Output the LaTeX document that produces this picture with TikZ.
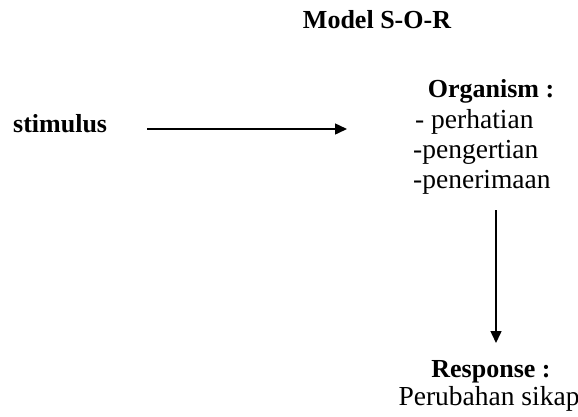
\documentclass[tikz,border=0pt]{standalone}
\usepackage{fontspec}
\setmainfont{Liberation Serif}
\usetikzlibrary{arrows.meta}
\tikzset{
  txt/.style={inner sep=0pt, font=\fontsize{26}{30}\selectfont},
  ltxt/.style={inner sep=0pt, font=\fontsize{27.5}{30}\selectfont},
  btxt/.style={inner sep=0pt, font=\fontsize{26}{30}\selectfont\bfseries},
  conn/.style={line width=1.5pt, -{Triangle[length=12pt,width=11pt]}}
}
\begin{document}
\begin{tikzpicture}[x=1pt,y=-1pt]
\useasboundingbox (0,0) rectangle (578,416);
\node[btxt, anchor=base] (title) at (377,28) {Model S-O-R};
\node[btxt, anchor=base west] (stim) at (13,132) {stimulus};
\node[btxt, anchor=base] (org) at (491,97) {Organism :};
\node[ltxt, anchor=base west] (o1) at (415,128) {- perhatian};
\node[ltxt, anchor=base west] (o2) at (413,158) {-pengertian};
\node[ltxt, anchor=base west] (o3) at (413,188) {-penerimaan};
\node[btxt, anchor=base] (resp) at (491,377) {Response :};
\node[ltxt, anchor=base] (r1) at (489,405) {Perubahan sikap};
\coordinate (h1) at (147,129);
\coordinate (h2) at (347,129);
\coordinate (v1) at (496,210);
\coordinate (v2) at (496,343);
\draw[conn] (h1) -- (h2);
\draw[conn] (v1) -- (v2);
\end{tikzpicture}
\end{document}
